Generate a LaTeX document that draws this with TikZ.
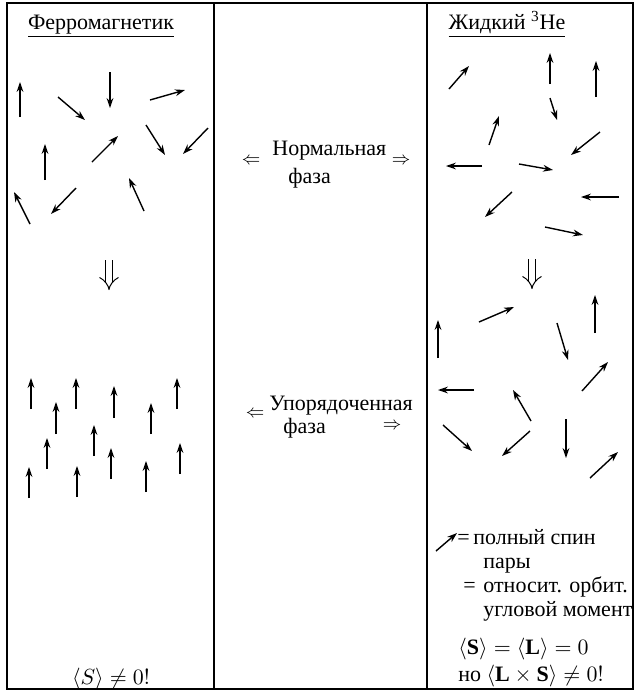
\documentclass[tikz,border=0pt]{standalone}
\usepackage{fontspec}
\setmainfont{Liberation Serif}
\usetikzlibrary{arrows.meta}

\tikzset{
  spin/.style={-{Stealth[length=5pt,width=3.4pt]}, line width=0.7pt},
  txt/.style={font=\fontsize{11}{13}\selectfont, inner sep=0pt, anchor=base west},
  arr/.style={font=\fontsize{9}{10}\selectfont, inner sep=0pt},
  phase/.style={double, double distance=3pt, line width=0.5pt, -{Implies}},
}

\begin{document}
\begin{tikzpicture}[x=0.5pt, y=-0.5pt]
    \useasboundingbox (0,0) rectangle (636,692);
    \draw[line width=0.8pt] (7,3) rectangle (633,689);
    \draw[line width=0.8pt] (214,3) -- (214,689);
    \draw[line width=0.8pt] (427,3) -- (427,689);

    % titles
    \node[txt, anchor=base] (ferro) at (101,29) {\underline{Ферромагнетик}};
    \node[txt, anchor=base] (he) at (507,29) {\underline{Жидкий \textsuperscript{3}He}};

    % ferromagnet, normal phase
    \draw[spin] (20,117) -- (20,82);
    \draw[spin] (58,97) -- (85,120);
    \draw[spin] (110,72) -- (110,108);
    \draw[spin] (150,100) -- (185,90);
    \draw[spin] (146,125) -- (165,155);
    \draw[spin] (208,128) -- (183,154);
    \draw[spin] (92,162) -- (118,136);
    \draw[spin] (45,180) -- (45,144);
    \draw[spin] (76,188) -- (51,214);
    \draw[spin] (144,211) -- (129,178);
    \draw[spin] (30,224) -- (14,192);

    % helium, normal phase
    \draw[spin] (449,89) -- (469,66);
    \draw[spin] (550,84) -- (550,53);
    \draw[spin] (596,97) -- (596,61);
    \draw[spin] (550,98) -- (557,120);
    \draw[spin] (489,145) -- (499,116);
    \draw[spin] (600,132) -- (571,155);
    \draw[spin] (482,166) -- (446,166);
    \draw[spin] (519,164) -- (553,170);
    \draw[spin] (512,192) -- (485,217);
    \draw[spin] (619,197) -- (581,197);
    \draw[spin] (545,227) -- (583,235);

    % transition
    \draw[phase] (109,260) -- (109,290);
    \draw[phase] (532,259) -- (532,289);

    % ferromagnet, ordered phase
    \draw[spin] (31,409) -- (31,378);
    \draw[spin] (76,409) -- (76,378);
    \draw[spin] (177,409) -- (177,378);
    \draw[spin] (114,418) -- (114,386);
    \draw[spin] (56,434) -- (56,402);
    \draw[spin] (151,434) -- (151,403);
    \draw[spin] (94,456) -- (94,425);
    \draw[spin] (47,469) -- (47,438);
    \draw[spin] (180,474) -- (180,443);
    \draw[spin] (111,479) -- (111,448);
    \draw[spin] (29,498) -- (29,467);
    \draw[spin] (77,497) -- (77,466);
    \draw[spin] (146,492) -- (146,461);

    % helium, ordered phase
    \draw[spin] (479,322) -- (514,307);
    \draw[spin] (595,333) -- (595,295);
    \draw[spin] (438,358) -- (438,320);
    \draw[spin] (557,323) -- (568,360);
    \draw[spin] (582,391) -- (608,362);
    \draw[spin] (474,390) -- (438,390);
    \draw[spin] (531,421) -- (513,390);
    \draw[spin] (443,425) -- (472,451);
    \draw[spin] (530,431) -- (502,456);
    \draw[spin] (566,419) -- (566,458);
    \draw[spin] (590,478) -- (618,452);

    % middle column
    \node[txt] (norm) at (272,155) {Нормальная};
    \node[txt] (normfaza) at (288,183) {фаза};
    \node[arr] (normL) at (251,161) {$\Leftarrow$};
    \node[arr] (normR) at (401,161) {$\Rightarrow$};

    \node[txt] (ord) at (269,410) {Упорядоченная};
    \node[txt] (ordfaza) at (283,433) {фаза};
    \node[arr] (ordL) at (255,414) {$\Leftarrow$};
    \node[arr] (ordR) at (392,426) {$\Rightarrow$};

    % legend
    \draw[spin] (436,551) -- (457,533);
    \node[txt] (eqa) at (457,544) {=};
    \node[txt] (spin) at (473,544) {полный спин};
    \node[txt] (pair) at (483,568) {пары};
    \node[txt] (eqb) at (463,592) {=};
    \node[txt] (orb) at (483,592) {относит. орбит.};
    \node[txt] (mom) at (483,616) {угловой момент};
    \node[txt] (zero) at (458,654) {$\langle\mathbf{S}\rangle = \langle\mathbf{L}\rangle = 0$};
    \node[txt] (cross) at (458,681) {но $\langle\mathbf{L}\times\mathbf{S}\rangle \neq 0!$};

    \node[txt, anchor=base] (snz) at (111,684) {$\langle S\rangle \neq 0!$};
\end{tikzpicture}
\end{document}
